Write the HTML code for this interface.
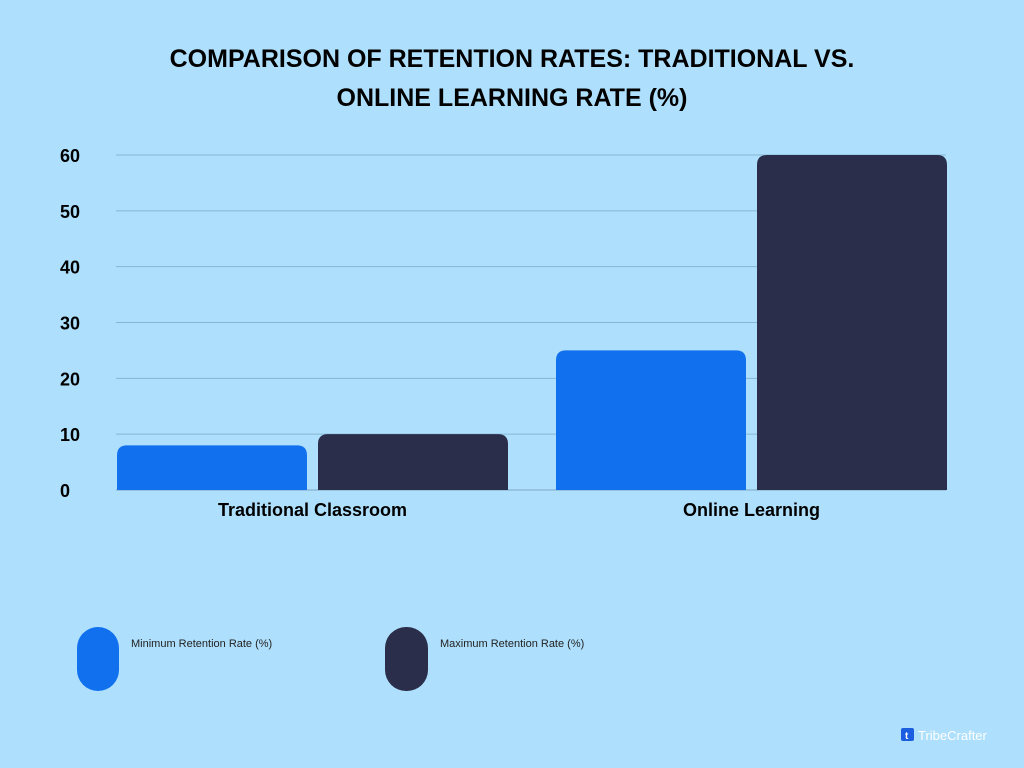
<!DOCTYPE html>
<html><head><meta charset="utf-8"><style>
body{margin:0;background:#aee0fd;font-family:"Liberation Sans",sans-serif;}
#wrap{position:relative;width:1024px;height:768px;overflow:hidden;background:#aee0fd;}
</style></head><body>
<div id="wrap">
<svg id="chart" width="1024" height="768">
<text x="512" y="67" text-anchor="middle" font-size="25" font-weight="bold" fill="#000">COMPARISON OF RETENTION RATES: TRADITIONAL VS.</text>
<text x="512" y="106" text-anchor="middle" font-size="25" font-weight="bold" fill="#000">ONLINE LEARNING RATE (%)</text>
<g id="grid"></g><g id="bars"></g><g id="labels"></g>
<rect x="77" y="627" width="42" height="64" rx="21" fill="#1170ee"/>
<text x="131" y="647" font-size="11" fill="#222">Minimum Retention Rate (%)</text>
<rect x="385" y="627" width="43" height="64" rx="21" fill="#2b2e4a"/>
<text x="440" y="647" font-size="11" fill="#222">Maximum Retention Rate (%)</text>
<rect x="901" y="728" width="13" height="13" rx="2" fill="#1b5fe0"/>
<text x="905" y="739" font-size="10" font-weight="bold" fill="#fff">t</text>
<text x="918" y="740" font-size="13" fill="#fff">TribeCrafter</text>
</svg>
</div>
<script>
const categories=["Traditional Classroom","Online Learning"];
const minValues=[8,25];
const maxValues=[10,60];
const yTicks=[0,10,20,30,40,50,60];
const NS="http://www.w3.org/2000/svg";
const x0=116,x1=946,yBase=490,yTop=155,yMax=60;
const y=v=>yBase-(v/yMax)*(yBase-yTop);
function mk(tag,attrs,parent){const e=document.createElementNS(NS,tag);for(const k in attrs)e.setAttribute(k,attrs[k]);document.getElementById(parent).appendChild(e);return e;}
yTicks.forEach(t=>{
  const l=mk('line',{x1:x0,x2:x1,y1:y(t),y2:y(t),stroke:t===0?'#7fa9c4':'#86b6d2','stroke-width':1},'grid');
  
  
  const tx=mk('text',{x:60,y:y(t)+7,'font-size':18,'font-weight':'bold',fill:'#000'},'labels');
  tx.textContent=t;
  
  
});
const groupW=(x1-x0)/categories.length, barW=190, gap=11;
categories.forEach((c,i)=>{
  const gx=x0+i*groupW+1+(i?24:0);
  const bw=i?barW:barW;
  [[minValues[i],'#1170ee','min'],[maxValues[i],'#2b2e4a','max']].forEach((s,j)=>{
    const bx=gx+j*(bw+gap), top=y(s[0]), h=yBase-top;
    const p=mk('path',{d:`M${bx},${yBase}V${top+10}Q${bx},${top} ${bx+10},${top}H${bx+bw-10}Q${bx+bw},${top} ${bx+bw},${top+10}V${yBase}Z`,fill:s[1]},'bars');
    
    
  });
  const tx=mk('text',{x:gx+bw+gap/2,y:516,'text-anchor':'middle','font-size':18,'font-weight':'bold',fill:'#000'},'labels');
  tx.textContent=c;
  
  
});
</script>
</body></html>
